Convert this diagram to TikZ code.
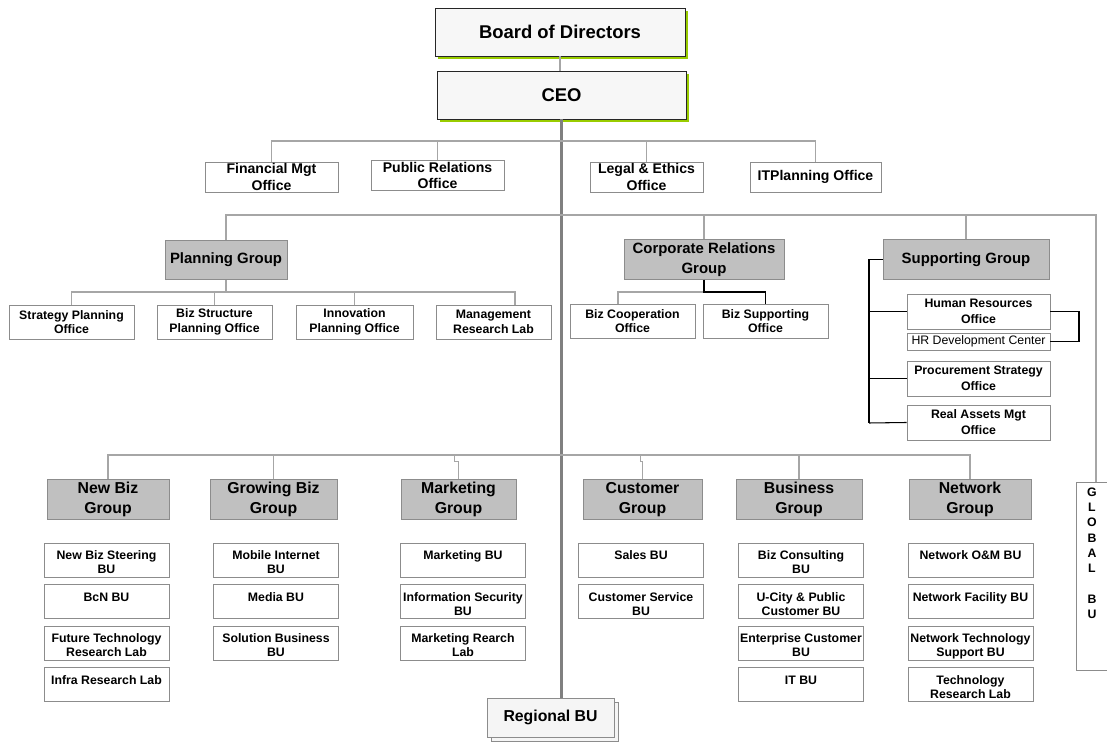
\documentclass[tikz,border=0pt]{standalone}
\usepackage{fontspec}
\setmainfont{Liberation Sans}
\usetikzlibrary{shadows}
\definecolor{shadowgreen}{HTML}{99CC00}
\definecolor{boxline}{HTML}{8C8C8C}
\definecolor{linegray}{HTML}{A6A6A6}
\definecolor{grpfill}{HTML}{C0C0C0}
\newcommand{\butop}[1]{\begin{tabular}[t]{@{}c@{}}#1\end{tabular}}

\begin{document}
\begin{tikzpicture}[x=0.02cm, y=-0.02cm,
    topbox/.style={rectangle, draw=black!85, fill=black!3, font=\bfseries\fontsize{10.5}{12}\selectfont, minimum width=5cm, minimum height=0.96cm, drop shadow={shadow xshift=0.06cm, shadow yshift=-0.06cm, fill=shadowgreen, opacity=1}},
    office/.style={rectangle, draw=boxline, fill=white, font=\bfseries\fontsize{8}{9.5}\selectfont, align=center, minimum height=0.6cm, inner sep=0pt},
    grp/.style={rectangle, draw=boxline, fill=grpfill, font=\bfseries\fontsize{8.5}{11}\selectfont, align=center, minimum height=0.79cm, inner sep=0pt},
    sub/.style={rectangle, draw=boxline, fill=white, font=\bfseries\fontsize{7}{8.3}\selectfont, align=center, minimum height=0.68cm, inner sep=0pt},
    bu/.style={rectangle, draw=boxline, fill=white, font=\bfseries\fontsize{7}{8}\selectfont, minimum width=2.5cm, inner xsep=0pt, inner ysep=2pt, text height=7.5pt, text depth=7.8pt},
    link/.style={draw=linegray, line width=0.6pt},
    trunk/.style={draw=black!50, line width=1.2pt},
    tie/.style={draw=black, line width=0.6pt}]
    \useasboundingbox (0,0) rectangle (1107,742);

    \node[topbox] (board) at (560,32) {Board of Directors};
    \node[topbox, minimum width=4.98cm] (ceo) at (561.5,95) {CEO};

    \node[office, minimum width=2.66cm] (fin) at (271.5,177) {Financial Mgt\\Office};
    \node[office, minimum width=2.66cm] (pr) at (437.5,175.5) {Public Relations\\Office};
    \node[office, minimum width=2.26cm] (legal) at (646.5,177) {Legal \& Ethics\\Office};
    \node[office, minimum width=2.62cm] (itp) at (815.5,177) {ITPlanning Office};

    \node[grp, minimum width=2.44cm] (plan) at (226,260) {Planning Group};
    \node[grp, minimum width=3.2cm] (corp) at (704,259.5) {Corporate Relations\\Group};
    \node[grp, minimum width=3.32cm] (supp) at (966,259.5) {Supporting Group};

    \node[sub, minimum width=2.5cm] (sp1) at (71.5,322) {Strategy Planning\\Office};
    \node[sub, minimum width=2.3cm] (sp2) at (214.5,322) {Biz Structure\\Planning Office};
    \node[sub, minimum width=2.34cm] (sp3) at (354.5,322) {Innovation\\Planning Office};
    \node[sub, minimum width=2.3cm] (sp4) at (493.5,322) {Management\\Research Lab};

    \node[sub, minimum width=2.5cm] (cr1) at (632.5,321) {Biz Cooperation\\Office};
    \node[sub, minimum width=2.5cm] (cr2) at (765.5,321) {Biz Supporting\\Office};

    \node[sub, minimum width=2.86cm, minimum height=0.7cm, font=\bfseries\fontsize{7}{9}\selectfont] (hr) at (978.5,311.5) {Human Resources\\Office};
    \node[sub, minimum width=2.86cm, minimum height=0.34cm, font=\fontsize{7}{8}\selectfont] (hrd) at (978.5,341.5) {HR Development Center};
    \node[sub, minimum width=2.86cm, minimum height=0.7cm, font=\bfseries\fontsize{7}{9}\selectfont] (proc) at (978.5,378.5) {Procurement Strategy\\Office};
    \node[sub, minimum width=2.86cm, minimum height=0.7cm, font=\bfseries\fontsize{7}{9}\selectfont] (real) at (978.5,422.5) {Real Assets Mgt\\Office};

    \node[grp, minimum width=2.44cm, font=\bfseries\fontsize{9}{11.5}\selectfont] (g1) at (108,499.5) {New Biz\\Group};
    \node[grp, minimum width=2.54cm, font=\bfseries\fontsize{9}{11.5}\selectfont] (g2) at (273.5,499.5) {Growing Biz\\Group};
    \node[grp, minimum width=2.3cm, font=\bfseries\fontsize{9}{11.5}\selectfont] (g3) at (458.5,499.5) {Marketing\\Group};
    \node[grp, minimum width=2.38cm, font=\bfseries\fontsize{9}{11.5}\selectfont] (g4) at (642.5,499.5) {Customer\\Group};
    \node[grp, minimum width=2.52cm, font=\bfseries\fontsize{9}{11.5}\selectfont] (g5) at (799,499.5) {Business\\Group};
    \node[grp, minimum width=2.44cm, font=\bfseries\fontsize{9}{11.5}\selectfont] (g6) at (970,499.5) {Network\\Group};

    \node[bu] (nb1) at (106.5,560) {\butop{New Biz Steering\\BU}};
    \node[bu] (nb2) at (106.5,601.5) {\butop{BcN BU}};
    \node[bu] (nb3) at (106.5,643) {\butop{Future Technology\\Research Lab}};
    \node[bu] (nb4) at (106.5,684.5) {\butop{Infra Research Lab}};

    \node[bu] (gb1) at (276,560) {\butop{Mobile Internet\\BU}};
    \node[bu] (gb2) at (276,601.5) {\butop{Media BU}};
    \node[bu] (gb3) at (276,643) {\butop{Solution Business\\BU}};

    \node[bu] (mk1) at (463,560) {\butop{Marketing BU}};
    \node[bu] (mk2) at (463,601.5) {\butop{Information Security\\BU}};
    \node[bu] (mk3) at (463,643) {\butop{Marketing Rearch\\Lab}};

    \node[bu] (cu1) at (641,560) {\butop{Sales BU}};
    \node[bu] (cu2) at (641,601.5) {\butop{Customer Service\\BU}};

    \node[bu] (bs1) at (801,560) {\butop{Biz Consulting\\BU}};
    \node[bu] (bs2) at (801,601.5) {\butop{U-City \& Public\\Customer BU}};
    \node[bu] (bs3) at (801,643) {\butop{Enterprise Customer\\BU}};
    \node[bu] (bs4) at (801,684.5) {\butop{IT BU}};

    \node[bu] (nw1) at (970.5,560) {\butop{Network O\&M BU}};
    \node[bu] (nw2) at (970.5,601.5) {\butop{Network Facility BU}};
    \node[bu] (nw3) at (970.5,643) {\butop{Network Technology\\Support BU}};
    \node[bu] (nw4) at (970.5,684.5) {\butop{Technology\\Research Lab}};

    \node[bu, minimum width=0.64cm, font=\bfseries\fontsize{7}{8.7}\selectfont, text height=6pt, text depth=97.2pt] (glob) at (1092,576.5) {\butop{G\\L\\O\\B\\A\\L\\ \\B\\U}};

    \node[rectangle, draw=boxline, fill=black!4, font=\bfseries\fontsize{9}{10}\selectfont, minimum width=2.54cm, minimum height=0.78cm, copy shadow={shadow xshift=0.08cm, shadow yshift=-0.08cm, fill=black!4, draw=boxline}] (reg) at (550.5,717.5) {Regional BU};

    \coordinate (c1) at (561,141);
    \coordinate (c2) at (561,215);
    \coordinate (c3) at (561,455);
    \coordinate (pl) at (226,292);
    \coordinate (cl) at (704,292);
    \coordinate (sl) at (869,423);
    \coordinate (hb) at (1079,326);

    \draw[link] (board.south) -- (board.south |- ceo.north);
    \draw[trunk] (ceo.south) -- (ceo.south |- reg.north);

    \draw[link] (fin.north) |- (c1) -| (itp.north);
    \draw[link] (pr.north) |- (c1);
    \draw[link] (legal.north) |- (c1);

    \draw[link] (plan.north) |- (c2) -| ([xshift=0.08cm]glob.north);
    \draw[link] (corp.north) |- (c2);
    \draw[link] (supp.north) |- (c2);

    \draw[link] (plan.south) -- (pl);
    \draw[link] (sp1.north) |- (pl) -| ([xshift=0.43cm]sp4.north);
    \draw[link] (sp2.north) |- (pl);
    \draw[link] (sp3.north) |- (pl);

    \draw[link] ([xshift=-0.29cm]cr1.north) |- (cl);
    \draw[tie] (corp.south) -- (cl) -| (cr2.north);

    \draw[draw=black, line width=1.1pt] (supp.west) -| (sl);
    \draw[tie] (hr.west) -- (hr.west -| sl);
    \draw[tie] (proc.west) -- (proc.west -| sl);
    \draw[tie] (real.west) -- (sl);
    \draw[tie] (hr.east) -| (hb) |- (hrd.east);

    \draw[link] (g1.north) |- (c3) -| (g6.north);
    \draw[link] (g2.north) |- (c3);
    \draw[link] (g5.north) |- (c3);
    \draw[link] (g3.north) -- ++(0,-18) -- ++(-4,0) |- (c3);
    \draw[link] (g4.north) -- ++(0,-18) -- ++(-2,0) |- (c3);
\end{tikzpicture}
\end{document}
